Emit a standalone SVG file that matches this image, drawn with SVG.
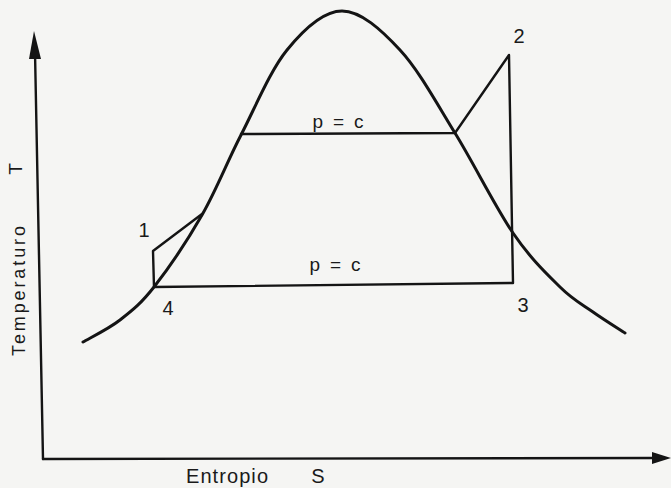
<svg xmlns="http://www.w3.org/2000/svg" width="671" height="488" viewBox="0 0 671 488">
  <style>
    .ln { fill: none; stroke: #141414; stroke-linecap: round; stroke-linejoin: round; }
    .dome { stroke-width: 3; }
    .cyc { stroke-width: 2.4; }
    .ax { stroke-width: 2.4; }
    .head { fill: #141414; stroke: none; }
    .t { font-family: "Liberation Sans", Arial, sans-serif; fill: #1a1a1a; }
  </style>
  <rect x="0" y="0" width="671" height="488" fill="#f5f5f3"/>

  <g id="axes">
    <line class="ln ax" x1="43" y1="459" x2="35" y2="52"/>
    <polygon class="head" points="34,31 29,59 41,59"/>
    <line class="ln ax" x1="43" y1="459" x2="655" y2="458"/>
    <polygon class="head" points="671,458 652,452 652,464"/>
  </g>

  <g id="saturation-dome">
    <path class="ln dome" d="M83,342 C89.2,338.3 108.2,329.2 120,320 C131.8,310.8 140.3,304.5 154,287 C167.7,269.5 187.5,240.3 202,215 C216.5,189.7 226.8,162.5 241,135 C255.2,107.5 270.2,70.7 287,50 C303.8,29.3 323.2,11 342,11 C360.8,11 381.2,29.7 400,50 C418.8,70.3 436.2,102.5 455,133 C473.8,163.5 495.5,207.3 513,233 C530.5,258.7 546.7,273.8 560,287 C573.3,300.2 582.2,304.3 593,312 C603.8,319.7 619.7,329.5 625,333"/>
  </g>

  <g id="connectors">
    <polyline class="ln cyc" points="202,214 153,251 154,287 513,283 509,55 455,133 241,134"/>
  </g>

  <g id="label-p-c-top"><text class="t" x="338" y="128" font-size="19" text-anchor="middle" textLength="51">p = c</text></g>
  <g id="label-p-c-bottom"><text class="t" x="335" y="271" font-size="19" text-anchor="middle" textLength="51">p = c</text></g>
  <g id="label-1"><text class="t" x="144" y="237" font-size="20" text-anchor="middle">1</text></g>
  <g id="label-2"><text class="t" x="519" y="43" font-size="20" text-anchor="middle">2</text></g>
  <g id="label-3"><text class="t" x="523" y="312" font-size="20" text-anchor="middle">3</text></g>
  <g id="label-4"><text class="t" x="168" y="315" font-size="20" text-anchor="middle">4</text></g>
  <g id="label-entropia">
    <text class="t" x="186" y="483" font-size="20" textLength="82">Entropio</text>
    <text class="t" x="318" y="483" font-size="20" text-anchor="middle">S</text>
  </g>
  <g id="label-temperatura">
    <text class="t" transform="translate(25,291) rotate(-90)" font-size="18" text-anchor="middle" textLength="130">Temperaturo</text>
    <text class="t" transform="translate(22,169) rotate(-90)" font-size="19" text-anchor="middle">T</text>
  </g>
</svg>
